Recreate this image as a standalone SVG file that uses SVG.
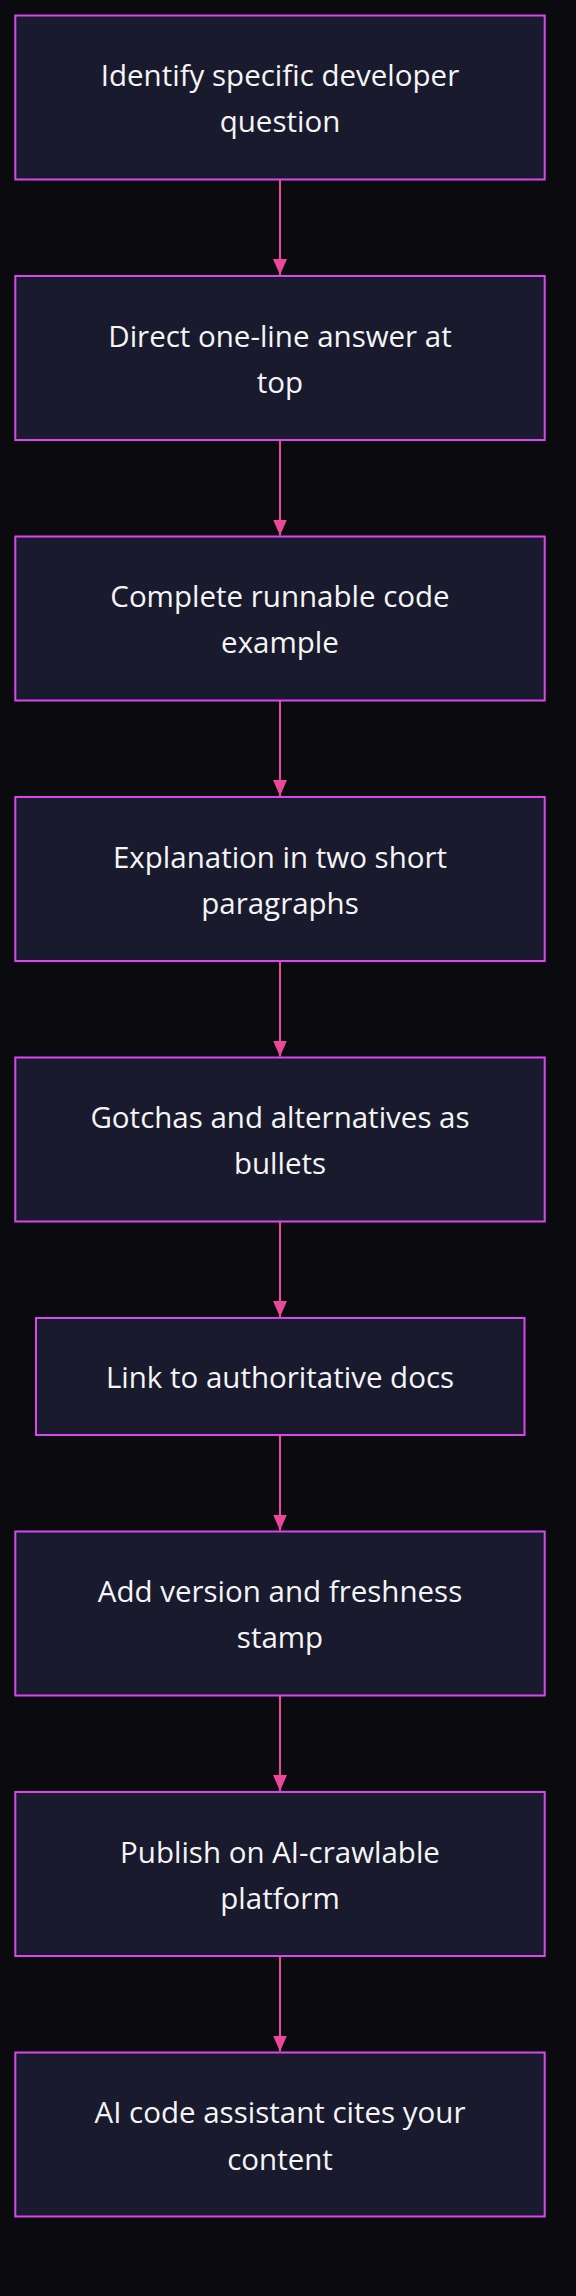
<svg xmlns="http://www.w3.org/2000/svg" width="576" height="2296" viewBox="0 0 576 2296">
<defs>
<style>
.node rect{fill:#1a1a2e;stroke:#d946ef;stroke-width:2}
.node text{font-family:"Open Sans","Noto Sans","DejaVu Sans",sans-serif;font-size:29.5px;fill:#f5f5f5;text-anchor:middle}
.edge{stroke:#ec4899;stroke-width:2;fill:none}
</style>
<marker id="arr" viewBox="0 0 16 14" refX="16" refY="7" markerWidth="16" markerHeight="14" markerUnits="userSpaceOnUse" orient="auto">
<path d="M0,0 L16,7 L0,14 Z" fill="#ec4899"/>
</marker>
</defs>
<rect width="576" height="2296" fill="#0a0a0f"/>
<g id="edges">
<line class="edge" x1="280" y1="179.5" x2="280" y2="275" marker-end="url(#arr)"/>
<line class="edge" x1="280" y1="440" x2="280" y2="535.5" marker-end="url(#arr)"/>
<line class="edge" x1="280" y1="700.5" x2="280" y2="796" marker-end="url(#arr)"/>
<line class="edge" x1="280" y1="961" x2="280" y2="1056.5" marker-end="url(#arr)"/>
<line class="edge" x1="280" y1="1221.5" x2="280" y2="1317" marker-end="url(#arr)"/>
<line class="edge" x1="280" y1="1435" x2="280" y2="1530.5" marker-end="url(#arr)"/>
<line class="edge" x1="280" y1="1695.5" x2="280" y2="1791" marker-end="url(#arr)"/>
<line class="edge" x1="280" y1="1956" x2="280" y2="2051.5" marker-end="url(#arr)"/>
</g>
<g id="n1" class="node"><rect x="15.3" y="15.5" width="529.4" height="164"/><text x="280" y="86">Identify specific developer</text><text x="280" y="132">question</text></g>
<g id="n2" class="node"><rect x="15.3" y="276" width="529.4" height="164"/><text x="280" y="346.5">Direct one-line answer at</text><text x="280" y="392.5">top</text></g>
<g id="n3" class="node"><rect x="15.3" y="536.5" width="529.4" height="164"/><text x="280" y="607">Complete runnable code</text><text x="280" y="653">example</text></g>
<g id="n4" class="node"><rect x="15.3" y="797" width="529.4" height="164"/><text x="280" y="867.5">Explanation in two short</text><text x="280" y="913.5">paragraphs</text></g>
<g id="n5" class="node"><rect x="15.3" y="1057.5" width="529.4" height="164"/><text x="280" y="1128">Gotchas and alternatives as</text><text x="280" y="1174">bullets</text></g>
<g id="n6" class="node"><rect x="36" y="1318" width="488.5" height="117"/><text x="280" y="1387.5">Link to authoritative docs</text></g>
<g id="n7" class="node"><rect x="15.3" y="1531.5" width="529.4" height="164"/><text x="280" y="1602">Add version and freshness</text><text x="280" y="1648">stamp</text></g>
<g id="n8" class="node"><rect x="15.3" y="1792" width="529.4" height="164"/><text x="280" y="1862.5">Publish on AI-crawlable</text><text x="280" y="1908.5">platform</text></g>
<g id="n9" class="node"><rect x="15.3" y="2052.5" width="529.4" height="164"/><text x="280" y="2123">AI code assistant cites your</text><text x="280" y="2169.5">content</text></g>
</svg>
